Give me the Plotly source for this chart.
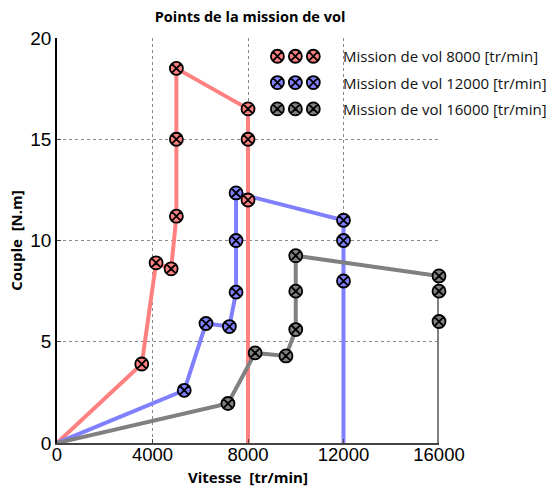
import plotly.graph_objects as go

# ---- data ----
speed_8000 = [0, 3550, 4150, 4780, 5000, 5000, 5000, 8000, 8000, 8000, 8000]
torque_8000 = [0, 3.9, 8.9, 8.6, 11.2, 15.0, 18.5, 16.5, 15.0, 12.0, 0]

speed_12000 = [0, 5330, 6240, 7220, 7500, 7500, 7500, 12000, 12000, 12000, 12000]
torque_12000 = [0, 2.6, 5.9, 5.75, 7.45, 10.0, 12.35, 11.0, 10.0, 8.0, 0]

speed_16000 = [0, 7160, 8300, 9590, 10000, 10000, 10000, 16000, 16000, 16000, 16000]
torque_16000 = [0, 1.95, 4.45, 4.3, 5.6, 7.5, 9.25, 8.25, 7.5, 6.0, 0]

series_names = ["Mission de vol 8000 [tr/min]",
                "Mission de vol 12000 [tr/min]",
                "Mission de vol 16000 [tr/min]"]
colors = ["#FF8080", "#8080FF", "#808080"]

x_ticks = [0, 4000, 8000, 12000, 16000]
y_ticks = [0, 5, 10, 15, 20]

x_title = "<b>Vitesse  [tr/min]</b>"
y_title = "<b>Couple  [N.m]</b>"
chart_title = "<b>Points de la mission de vol</b>"

series = [(speed_8000, torque_8000), (speed_12000, torque_12000), (speed_16000, torque_16000)]

marker_style = dict(symbol="circle-x", size=13, line=dict(color="black", width=1.8))

fig = go.Figure()

# lines
for (xs, ys), c in zip(series, colors):
    fig.add_trace(go.Scatter(x=xs, y=ys, mode="lines", line=dict(color=c, width=4),
                             showlegend=False, hoverinfo="skip", cliponaxis=False))
# markers (interior points only)
for (xs, ys), c, n in zip(series, colors, series_names):
    fig.add_trace(go.Scatter(x=xs[1:-1], y=ys[1:-1], mode="markers", name=n,
                             marker=dict(color=c, **marker_style),
                             showlegend=False, cliponaxis=False))

# custom legend (three markers per entry) on an overlay axis in plot-fraction units
leg_marker_x = [0.577, 0.624, 0.671]
leg_text_x = 0.743
leg_rows_y = [0.955, 0.890, 0.825]
for c, n, ry in zip(colors, series_names, leg_rows_y):
    fig.add_trace(go.Scatter(x=leg_marker_x, y=[ry] * 3, mode="markers",
                             xaxis="x2", yaxis="y2", showlegend=False, hoverinfo="skip",
                             cliponaxis=False, marker=dict(color=c, **marker_style)))
    fig.add_annotation(x=leg_text_x, y=ry, xref="x2", yref="y2", text=n,
                       showarrow=False, xanchor="left", yanchor="middle",
                       font=dict(family="Open Sans", size=15, color="#111"))

# x-axis title as annotation below tick labels
fig.add_annotation(x=0.5, y=-0.084, xref="paper", yref="paper", text=x_title,
                   showarrow=False, xanchor="center", yanchor="middle",
                   font=dict(family="Open Sans", size=15, color="black"))

fig.update_layout(
    width=552, height=488,
    margin=dict(l=57, r=113, t=38, b=45, autoexpand=False),
    paper_bgcolor="white", plot_bgcolor="white",
    title=dict(text=chart_title, x=250 / 552, xanchor="center",
               y=1 - 17 / 488, yanchor="middle",
               font=dict(family="Open Sans", size=14.5, color="black")),
    xaxis=dict(range=[0, 16000], tickvals=x_ticks, ticktext=[str(v) for v in x_ticks],
               showgrid=True, gridcolor="#888", griddash="dot", gridwidth=1,
               showline=True, linecolor="#444", linewidth=2,
               ticks="inside", ticklen=4, tickcolor="#444",
               zeroline=False, automargin=False, ticklabelstandoff=-6,
               tickfont=dict(family="Liberation Sans", size=18.5, color="black")),
    yaxis=dict(range=[0, 20], tickvals=y_ticks, ticktext=[str(v) for v in y_ticks],
               showgrid=True, gridcolor="#888", griddash="dot", gridwidth=1,
               showline=True, linecolor="black", linewidth=1.5,
               ticks="inside", ticklen=4, tickcolor="#444",
               zeroline=False, automargin=False,
               tickfont=dict(family="Liberation Sans", size=19, color="black"),
               title=dict(text=y_title, standoff=4,
                          font=dict(family="Open Sans", size=15, color="black"))),
    xaxis2=dict(overlaying="x", range=[0, 1], visible=False, fixedrange=True),
    yaxis2=dict(overlaying="y", range=[0, 1], visible=False, fixedrange=True),
    showlegend=False,
)

fig.write_html("out.html")
